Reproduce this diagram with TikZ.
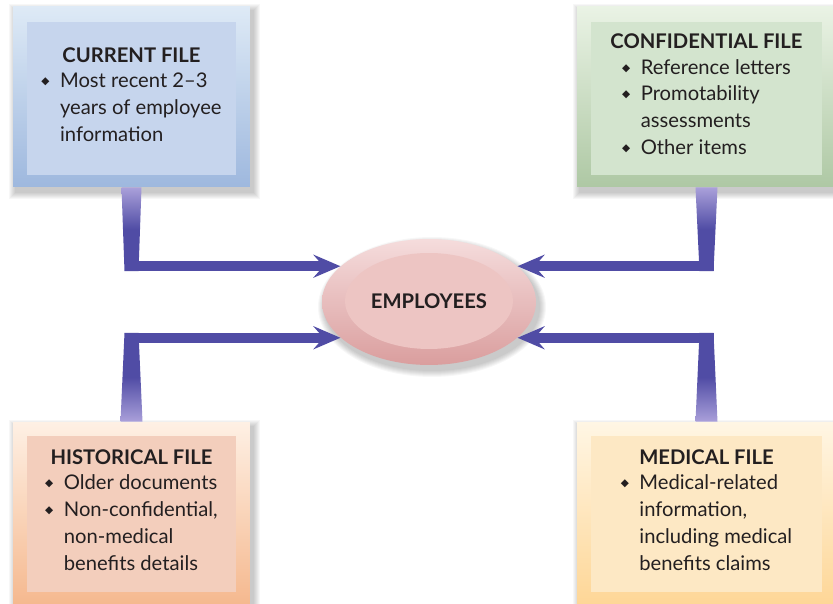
\documentclass[tikz,border=0pt]{standalone}
\usepackage{fontspec}
\setmainfont{Lato}
\newfontfamily\symfont{DejaVu Sans}
\usepackage{tikz}
\usetikzlibrary{calc,positioning,arrows.meta,shapes.geometric,backgrounds}
\definecolor{inkdark}{RGB}{35,31,32}
\definecolor{curhi}{RGB}{222,234,246}
\definecolor{curlo}{RGB}{158,184,222}
\definecolor{curfill}{RGB}{198,213,237}
\definecolor{confhi}{RGB}{234,243,229}
\definecolor{conflo}{RGB}{174,200,164}
\definecolor{conffill}{RGB}{211,228,206}
\definecolor{histhi}{RGB}{254,240,228}
\definecolor{histlo}{RGB}{245,184,142}
\definecolor{histfill}{RGB}{243,206,188}
\definecolor{medhi}{RGB}{255,246,228}
\definecolor{medlo}{RGB}{254,214,150}
\definecolor{medfill}{RGB}{253,232,196}
\definecolor{emphi}{RGB}{245,220,220}
\definecolor{emplo}{RGB}{218,158,158}
\definecolor{empfill}{RGB}{237,197,195}
\definecolor{stemlight}{RGB}{170,160,218}
\definecolor{stemdark}{RGB}{80,76,165}
\newcommand{\fbul}{\raisebox{0.3ex}{\symfont\fontsize{6}{6}\selectfont ◆}}
\newcommand{\filehead}[1]{{\bfseries #1}}
\tikzset{
  outerbox/.style={rectangle, inner sep=0pt, minimum width=4.74cm, minimum height=3.62cm},
  innerbox/.style={rectangle, inner sep=0pt, minimum width=4.2cm, minimum height=3.08cm,
                   align=center, text=inkdark, font=\fontsize{11.5}{15.3}\selectfont},
  empnode/.style={ellipse, inner sep=0pt, minimum width=4.28cm, minimum height=2.52cm,
                  top color=emphi, bottom color=emplo},
  empcore/.style={ellipse, inner sep=0pt, minimum width=3.36cm, minimum height=1.92cm,
                  fill=empfill, text=inkdark, font=\fontsize{11.5}{14}\selectfont\bfseries},
  haze/.style={fill=black, opacity=0.03},
  stemdown/.style={top color=stemlight, bottom color=stemdark, middle color=stemdark},
  stemup/.style={top color=stemdark, bottom color=stemlight, middle color=stemdark},
  link/.style={draw=stemdark, line width=0.2cm,
               -{Stealth[length=0.54cm, width=0.46cm, inset=0.2cm]}},
}
\begin{document}
\begin{tikzpicture}[x=0.02cm, y=-0.02cm]
  \path[use as bounding box, clip] (0,0) rectangle (833,604);
  % four file boxes
  \node[outerbox, top color=curhi, bottom color=curlo] (curout) at (131.5,96.5) {};
  \node[outerbox, top color=confhi, bottom color=conflo, minimum width=5.18cm] (confout) at (706.5,96.5) {};
  \node[outerbox, top color=histhi, bottom color=histlo, minimum height=3.68cm] (histout) at (131.5,514) {};
  \node[outerbox, top color=medhi, bottom color=medlo, minimum width=5.18cm, minimum height=3.68cm] (medout) at (706.5,514) {};
  \node[innerbox, fill=curfill] (curin) at ($(curout)+(0,2)$) {\filehead{CURRENT FILE}\\[-1pt]
    \begin{tabular}[t]{@{}l@{\hspace{6pt}}l@{}}
      \fbul & Most recent 2--3\\
            & years of employee\\
            & information
    \end{tabular}};
  \node[innerbox, fill=conffill, minimum width=4.62cm] (confin) at ($(confout)+(0,2)$) {\filehead{CONFIDENTIAL FILE}\\[-1pt]
    \begin{tabular}[t]{@{}l@{\hspace{6pt}}l@{}}
      \fbul & Reference letters\\
      \fbul & Promotability\\
            & assessments\\
      \fbul & Other items
    \end{tabular}};
  \node[innerbox, fill=histfill, minimum height=3.14cm] (histin) at (histout) {\filehead{HISTORICAL FILE}\\[-1pt]
    \begin{tabular}[t]{@{}l@{\hspace{6pt}}l@{}}
      \fbul & Older documents\\
      \fbul & Non-confidential,\\
            & non-medical\\
            & benefits details
    \end{tabular}};
  \node[innerbox, fill=medfill, minimum width=4.62cm, minimum height=3.14cm] (medin) at (medout) {\filehead{MEDICAL FILE}\\[-1pt]
    \begin{tabular}[t]{@{}l@{\hspace{6pt}}l@{}}
      \fbul & Medical-related\\
            & information,\\
            & including medical\\
            & benefits claims
    \end{tabular}};
  % centre ellipse
  \node[empnode] (emp) at (429,302) {};
  \node[empcore] (empin) at (429,301) {EMPLOYEES};
  % soft shadows
  \begin{scope}[on background layer]
    \fill[white] (0,0) rectangle (833,604);
    \foreach \n in {curout,confout,histout,medout}{
      \foreach \k in {1,...,7}{
        \fill[haze] ($(\n.north west)+(3-\k,5-\k)$) rectangle ($(\n.south east)+(3+\k,5+\k)$);
      }
    }
    \foreach \k in {1,...,7}{
      \fill[haze] ($(emp)+(3,5)$) ellipse [x radius=107+\k, y radius=63+\k];
    }
  \end{scope}
  % connectors
  \coordinate (tipA) at (emp.158);
  \coordinate (tipB) at (emp.22);
  \coordinate (tipC) at (emp.202);
  \coordinate (tipD) at (emp.338);
  \coordinate (bendA) at (curout.south |- tipA);
  \coordinate (bendB) at (confout.south |- tipB);
  \coordinate (bendC) at (histout.north |- tipC);
  \coordinate (bendD) at (medout.north |- tipD);
  \shade[stemdown] ($(curout.south)+(-10,0)$) -- ($(curout.south)+(10,0)$)
    -- ($(bendA)+(7,5)$) -- ($(bendA)+(-7,5)$) -- cycle;
  \shade[stemdown] ($(confout.south)+(-11,0)$) -- ($(confout.south)+(11,0)$)
    -- ($(bendB)+(7,5)$) -- ($(bendB)+(-7,5)$) -- cycle;
  \shade[stemup] ($(bendC)+(-7,-5)$) -- ($(bendC)+(7,-5)$)
    -- ($(histout.north)+(11,0)$) -- ($(histout.north)+(-11,0)$) -- cycle;
  \shade[stemup] ($(bendD)+(-7,-5)$) -- ($(bendD)+(7,-5)$)
    -- ($(medout.north)+(11,0)$) -- ($(medout.north)+(-11,0)$) -- cycle;
  \draw[link] ($(bendA)+(-7,0)$) -- (tipA);
  \draw[link] ($(bendB)+(7,0)$) -- (tipB);
  \draw[link] ($(bendC)+(-7,0)$) -- (tipC);
  \draw[link] ($(bendD)+(7,0)$) -- (tipD);
\end{tikzpicture}
\end{document}
